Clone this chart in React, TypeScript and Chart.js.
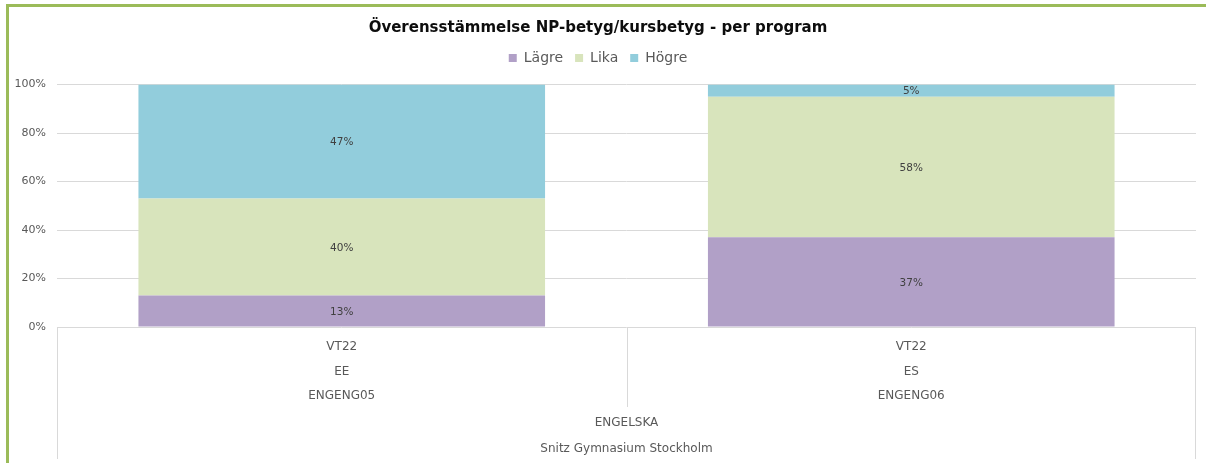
import React, { useEffect, useRef } from "react";
import { Chart, registerables } from "chart.js";

Chart.register(...registerables);

const FONT = "'DejaVu Sans', sans-serif";

const chartTitle = "Överensstämmelse NP-betyg/kursbetyg - per program";
const categories = [
  ["VT22", "EE", "ENGENG05"],
  ["VT22", "ES", "ENGENG06"],
];
const groupLabels = ["ENGELSKA", "Snitz Gymnasium Stockholm"];
const seriesNames = ["Lägre", "Lika", "Högre"];
const lagre = [13, 37];
const lika = [40, 58];
const hogre = [47, 5];
const yTicks = [0, 20, 40, 60, 80, 100];
const seriesColors = ["#B1A0C7", "#D8E4BC", "#92CDDC"];

const dataLabelsPlugin = {
  id: "dataLabels",
  afterDatasetsDraw(chart: any) {
    const ctx = chart.ctx;
    ctx.save();
    ctx.font = `10.5px ${FONT}`;
    ctx.fillStyle = "#404040";
    ctx.textAlign = "center";
    ctx.textBaseline = "middle";
    chart.data.datasets.forEach((ds: any, i: number) => {
      const meta = chart.getDatasetMeta(i);
      meta.data.forEach((el: any, j: number) => {
        const v = ds.data[j];
        const p = el.getCenterPoint();
        ctx.fillText(v + "%", p.x, p.y + 1);
      });
    });
    ctx.restore();
  },
};

const categoryLinesPlugin = {
  id: "categoryLines",
  afterDraw(chart: any) {
    const { ctx, chartArea } = chart;
    const x = chart.scales.x;
    const top = chartArea.bottom;
    const outerBottom = x.bottom - 4;
    const innerBottom = top + 80;
    const line = (px: number, y0: number, y1: number) => {
      const xx = Math.round(px) + 0.5;
      ctx.beginPath();
      ctx.moveTo(xx, y0);
      ctx.lineTo(xx, y1);
      ctx.stroke();
    };
    ctx.save();
    ctx.strokeStyle = "#d9d9d9";
    ctx.lineWidth = 1;
    line(chartArea.left, top, outerBottom);
    line(chartArea.right - 1, top, outerBottom);
    for (let i = 1; i < categories.length; i++) {
      const px = (x.getPixelForValue(i - 1) + x.getPixelForValue(i)) / 2;
      line(px, top, innerBottom);
    }
    ctx.restore();
  },
};

export default function App() {
  const canvasRef = useRef<HTMLCanvasElement | null>(null);

  useEffect(() => {
    if (!canvasRef.current) return;
    const chart = new Chart(canvasRef.current, {
      type: "bar",
      data: {
        labels: categories,
        datasets: [lagre, lika, hogre].map((d, i) => ({
          label: seriesNames[i],
          data: d,
          backgroundColor: seriesColors[i],
          borderWidth: 0,
          barPercentage: 0.714,
          categoryPercentage: 1,
        })),
      },
      options: {
        animation: false,
        responsive: false,
        devicePixelRatio: 1,
        layout: { padding: { top: 0, left: 0, right: 10, bottom: 0 } },
        plugins: {
          title: {
            display: true,
            text: chartTitle,
            color: "#0d0d0d",
            font: { family: FONT, size: 15, weight: "bold", lineHeight: 1.2 },
            padding: { top: 19, bottom: 2 },
          },
          legend: {
            position: "top",
            labels: {
              boxWidth: 8,
              boxHeight: 8,
              padding: 12,
              color: "#595959",
              font: { family: FONT, size: 14 },
            },
          },
          subtitle: {
            display: true,
            text: " ",
            weight: 500,
            font: { size: 1, lineHeight: 1 },
            padding: { top: 0, bottom: 8.5 },
          },
          tooltip: { enabled: false },
        } as any,
        scales: {
          x: {
            stacked: true,
            grid: { display: false, drawTicks: false },
            border: { display: false },
            ticks: {
              color: "#595959",
              font: { family: FONT, size: 12, lineHeight: 24.5 / 12 },
              padding: 8,
              maxRotation: 0,
              autoSkip: false,
            },
            title: {
              display: true,
              text: groupLabels,
              color: "#595959",
              font: { family: FONT, size: 12, lineHeight: 26 / 12 },
              padding: { top: 0, bottom: 1 },
            },
            afterFit: (s: any) => {
              s.height = 136;
            },
          },
          y: {
            stacked: true,
            min: 0,
            max: 100,
            afterBuildTicks: (s: any) => {
              s.ticks = yTicks.map((v) => ({ value: v }));
            },
            ticks: {
              callback: (v: any) => v + "%",
              color: "#595959",
              font: { family: FONT, size: 11 },
              padding: 11,
            },
            grid: { color: "#d9d9d9", drawTicks: false },
            border: { display: false },
            afterFit: (s: any) => {
              s.width = 57;
            },
          },
        },
      } as any,
      plugins: [dataLabelsPlugin, categoryLinesPlugin],
    });
    return () => chart.destroy();
  }, []);

  return (
    <div
      style={{
        position: "fixed",
        left: 0,
        top: 0,
        width: 1206,
        height: 463,
        overflow: "hidden",
        background: "#fff",
      }}
    >
      <canvas ref={canvasRef} width={1206} height={463} style={{ display: "block" }} />
      <div
        style={{
          position: "absolute",
          left: 6,
          top: 4,
          width: 1400,
          height: 700,
          border: "3px solid #9BBB59",
          pointerEvents: "none",
        }}
      />
    </div>
  );
}
